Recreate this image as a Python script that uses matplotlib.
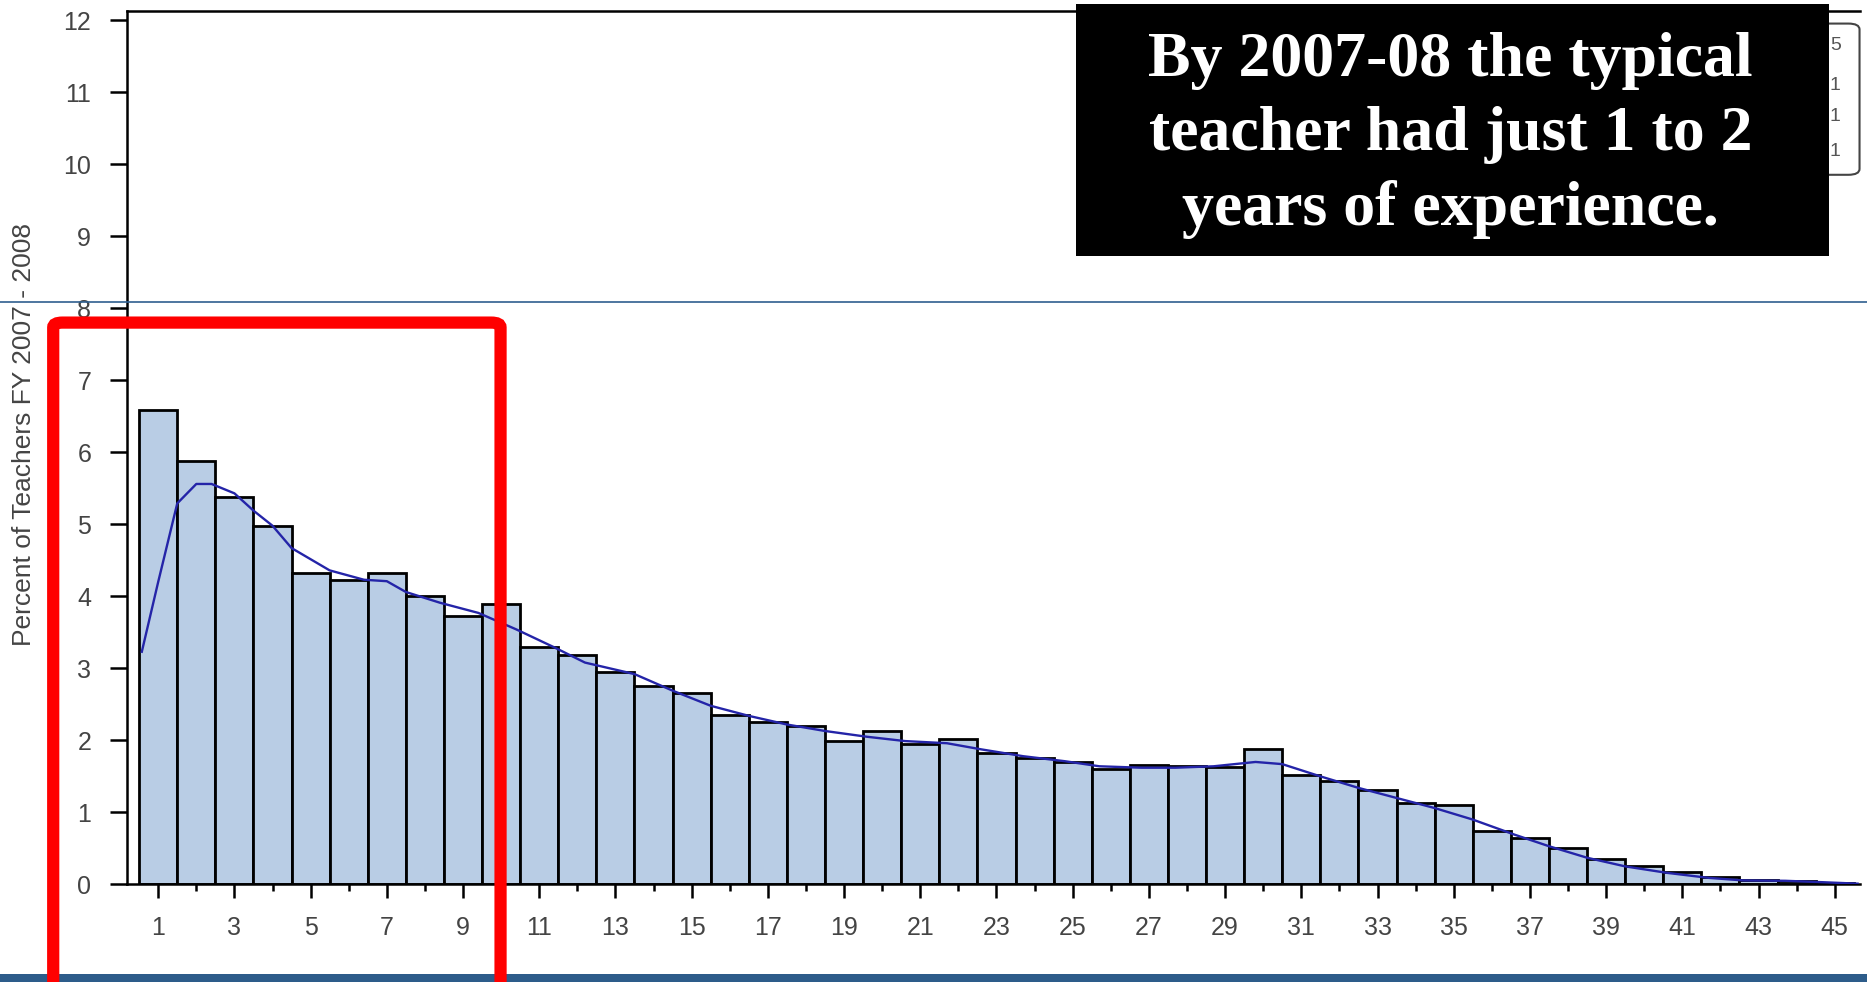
import matplotlib
matplotlib.use('Agg')
import matplotlib.pyplot as plt
from matplotlib.patches import FancyBboxPatch, Rectangle
from matplotlib.lines import Line2D

# years of experience and percent of teachers (bars)
years = list(range(1, 46))
pct = [6.59, 5.88, 5.38, 4.97, 4.33, 4.22, 4.33, 4.00, 3.72, 3.90,
       3.29, 3.19, 2.95, 2.76, 2.66, 2.35, 2.25, 2.20, 1.99, 2.13,
       1.95, 2.02, 1.82, 1.75, 1.70, 1.60, 1.66, 1.65, 1.63, 1.88,
       1.52, 1.44, 1.31, 1.13, 1.10, 0.74, 0.64, 0.50, 0.35, 0.25,
       0.17, 0.10, 0.06, 0.05, 0.02]

# smoothed density curve
curve_x = [0.57, 1.0, 1.5, 2.0, 2.4, 3.0, 3.5, 4.0, 4.5, 5.5, 6.4, 7.0, 7.5,
           8.4, 9.4, 10.4, 11.4, 12.2, 13.5, 14.5, 15.5, 16.5, 17.5, 18.5,
           19.6, 20.6, 21.7, 22.6, 23.7, 24.8, 25.7, 26.8, 27.7, 28.7, 29.8,
           30.5, 31.5, 32.5, 33.5, 34.5, 35.5, 36.6, 37.5, 38.5, 39.5, 40.6,
           41.7, 42.6, 43.7, 44.7, 45.6]
curve_y = [3.23, 4.2, 5.29, 5.56, 5.56, 5.43, 5.19, 4.98, 4.67, 4.36, 4.23,
           4.21, 4.06, 3.91, 3.77, 3.54, 3.29, 3.08, 2.92, 2.69, 2.48, 2.34,
           2.22, 2.13, 2.05, 1.99, 1.96, 1.875, 1.78, 1.71, 1.64, 1.62, 1.62,
           1.64, 1.70, 1.67, 1.50, 1.34, 1.20, 1.06, 0.90, 0.69, 0.53, 0.37,
           0.25, 0.16, 0.09, 0.055, 0.05, 0.03, 0.01]

ylabel = 'Percent of Teachers FY 2007 - 2008'
callout = 'By 2007-08 the typical\nteacher had just 1 to 2\nyears of experience.'
legend_bits = ['5', '1', '1', '1']

plt.rcParams['font.family'] = ['Liberation Sans', 'DejaVu Sans']
tick_color = '#444444'

fig = plt.figure(figsize=(18.67, 9.82), dpi=100)
ax = fig.add_axes([0.0682, 0.0994, 0.928, 0.8896])

ax.bar(years, pct, width=1.0, color='#b9cde5', edgecolor='black',
       linewidth=2.0, zorder=2)
ax.plot(curve_x, curve_y, color='#2424a8', lw=1.7, zorder=3)

ax.set_xlim(0.19, 45.66)
ax.set_ylim(0, 12.13)
ax.set_yticks(range(0, 13))
ax.set_xticks(range(1, 46, 2))
ax.set_xticks(range(2, 46, 2), minor=True)

for side in ['left', 'bottom', 'top']:
    ax.spines[side].set_linewidth(1.8)
ax.spines['right'].set_visible(False)

ax.tick_params(axis='y', length=12, width=1.8, pad=14, labelsize=18,
               labelcolor=tick_color)
ax.tick_params(axis='x', which='major', length=10, width=1.8, pad=13,
               labelsize=18, labelcolor=tick_color)
ax.tick_params(axis='x', which='minor', length=5, width=1.8)

fig.text(0.0128, 0.5576, ylabel, rotation=90, ha='center', va='center',
         fontsize=19, color=tick_color)

# partly hidden legend box behind the callout
fig.patches.append(FancyBboxPatch((0.944, 0.822), 0.052, 0.154,
                                  boxstyle='round,pad=0,rounding_size=0.006',
                                  transform=fig.transFigure, facecolor='white',
                                  edgecolor='#444444', lw=1.5, zorder=4))
for txt, yy in zip(legend_bits, [0.954, 0.913, 0.881, 0.846]):
    fig.text(0.983, yy, txt, ha='center', va='center', fontsize=14,
             color='#555555', zorder=5)

# slide decorations
fig.add_artist(Line2D([0, 1], [0.692, 0.692], transform=fig.transFigure,
                      color='#2f5f8f', lw=1.2, zorder=6))
fig.patches.append(Rectangle((0, 0), 1, 0.008, transform=fig.transFigure,
                             facecolor='#2d5c8a', edgecolor='none', zorder=6))
fig.patches.append(FancyBboxPatch((0.0285, -0.05), 0.2396, 0.7215,
                                  boxstyle='round,pad=0,rounding_size=0.005',
                                  transform=fig.transFigure, facecolor='none',
                                  edgecolor='#ff0000', lw=8.8, zorder=7))

fig.patches.append(Rectangle((0.5765, 0.7394), 0.4031, 0.257,
                             transform=fig.transFigure, facecolor='black',
                             edgecolor='none', zorder=8))
fig.text(0.777, 0.862, callout, ha='center', va='center', fontsize=46,
         fontweight='bold', family=['Liberation Serif', 'DejaVu Serif'],
         color='white', linespacing=1.36, zorder=9)

fig.savefig('out.png', dpi=100)
